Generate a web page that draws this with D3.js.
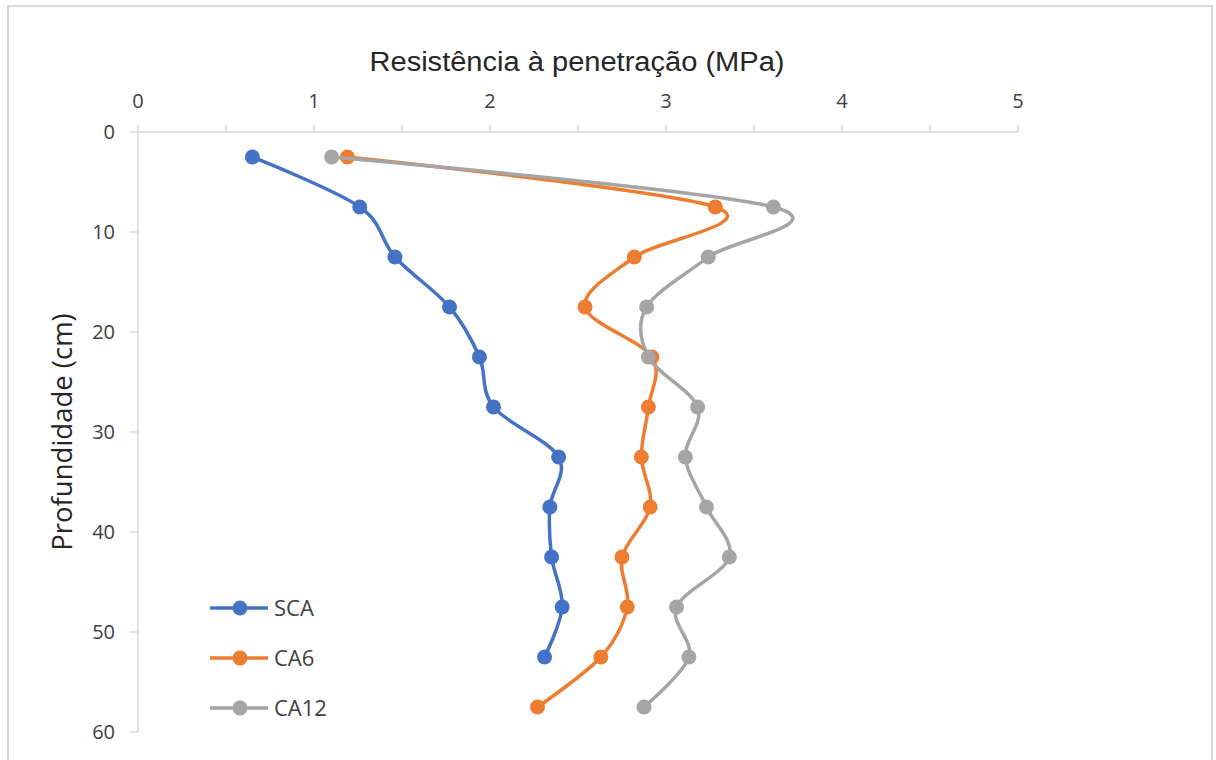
<!DOCTYPE html>
<html><head><meta charset="utf-8">
<script src="https://cdn.jsdelivr.net/npm/d3@7/dist/d3.min.js"></script>
<style>body{margin:0;background:#fff}svg{display:block}text{font-family:"Open Sans",sans-serif;fill:#404040}</style>
</head><body><svg id="c" width="1216" height="760"></svg>
<script>
const depths = [2.5,7.5,12.5,17.5,22.5,27.5,32.5,37.5,42.5,47.5,52.5,57.5];
const sca  = [0.65,1.26,1.46,1.77,1.94,2.02,2.39,2.34,2.35,2.41,2.31];
const ca6  = [1.19,3.28,2.82,2.54,2.92,2.90,2.86,2.91,2.75,2.78,2.63,2.27];
const ca12 = [1.10,3.61,3.24,2.89,2.90,3.18,3.11,3.23,3.36,3.06,3.13,2.875];
const seriesNames = ["SCA","CA6","CA12"];
const colors = ["#4472C4","#ED7D31","#A5A5A5"];
const xTicks = [0,1,2,3,4,5];
const yTicks = [0,10,20,30,40,50,60];
const xTitle = "Resistência à penetração (MPa)";
const yTitle = "Profundidade (cm)";

const svg = d3.select("#c");
svg.append("rect").attr("x",8).attr("y",6).attr("width",1204).attr("height",770)
  .attr("fill","#fff").attr("stroke","#d9d9d9").attr("stroke-width",2);

const x = d3.scaleLinear().domain([0,5]).range([138,1018]);
const y = d3.scaleLinear().domain([0,60]).range([132,732]);

// x axis (top)
const gx = svg.append("g");
gx.append("line").attr("x1",x(0)).attr("x2",x(5)).attr("y1",y(0)).attr("y2",y(0)).attr("stroke","#d9d9d9").attr("stroke-width",1.5);
gx.selectAll("line.t").data(d3.range(0,5.01,0.5)).join("line").attr("class","t")
  .attr("x1",d=>x(d)).attr("x2",d=>x(d)).attr("y1",y(0)).attr("y2",y(0)-7)
  .attr("stroke","#d9d9d9").attr("stroke-width",1.5);
gx.selectAll("text").data(xTicks).join("text")
  .attr("x",d=>x(d)).attr("y",108).attr("text-anchor","middle").attr("font-size",20).text(d=>d);

// y axis
const gy = svg.append("g");
gy.append("line").attr("x1",x(0)).attr("x2",x(0)).attr("y1",y(0)).attr("y2",y(60)).attr("stroke","#d9d9d9").attr("stroke-width",1.5);
gy.selectAll("line.t").data(yTicks).join("line").attr("class","t")
  .attr("x1",x(0)-8).attr("x2",x(0)).attr("y1",d=>y(d)).attr("y2",d=>y(d))
  .attr("stroke","#d9d9d9").attr("stroke-width",1.5);
gy.selectAll("text").data(yTicks).join("text")
  .attr("x",115).attr("y",d=>y(d)+7).attr("text-anchor","end").attr("font-size",20).text(d=>d);

svg.append("text").attr("x",577).attr("y",71).attr("text-anchor","middle").attr("font-size",27)
  .attr("textLength",415).attr("lengthAdjust","spacingAndGlyphs")
  .style("font-family","'Liberation Sans',Arial,sans-serif").style("fill","#262626").text(xTitle);
svg.append("text").attr("transform","translate(72,432) rotate(-90)").attr("text-anchor","middle").attr("font-size",27.5)
  .style("fill","#262626").text(yTitle);

const data = [sca,ca6,ca12];
const line = d3.line().x(d=>x(d[0])).y(d=>y(d[1])).curve(d3.curveCardinal.tension(0));
data.forEach((vals,i)=>{
  const pts = vals.map((v,j)=>[v,depths[j]]);
  svg.append("path").attr("d",line(pts)).attr("fill","none").attr("stroke",colors[i]).attr("stroke-width",3.5);
  svg.append("g").selectAll("circle").data(pts).join("circle")
    .attr("cx",d=>x(d[0])).attr("cy",d=>y(d[1])).attr("r",7.5).attr("fill",colors[i]);
});

// legend
seriesNames.forEach((n,i)=>{
  const ly = 608 + i*50;
  svg.append("line").attr("x1",210).attr("x2",268).attr("y1",ly).attr("y2",ly).attr("stroke",colors[i]).attr("stroke-width",3.5);
  svg.append("circle").attr("cx",240).attr("cy",ly).attr("r",7.5).attr("fill",colors[i]);
  svg.append("text").attr("x",274).attr("y",ly+8).attr("font-size",22).text(n);
});
</script></body></html>
